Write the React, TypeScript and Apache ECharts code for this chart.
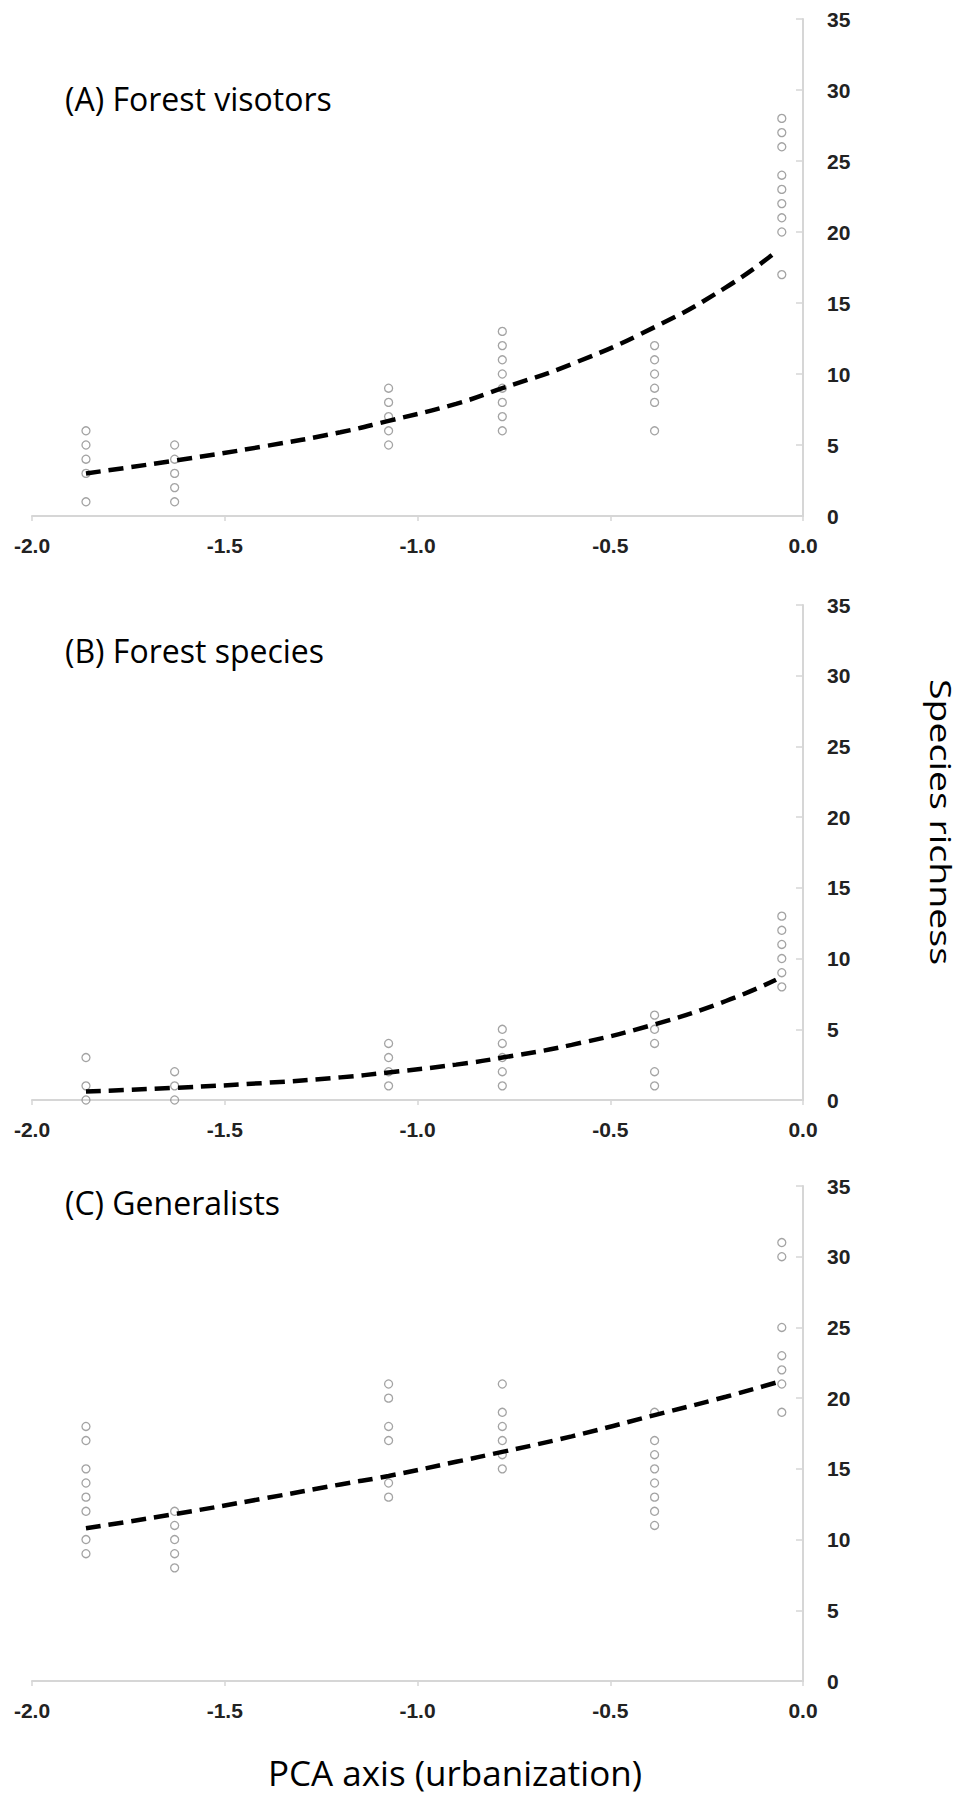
import React, { useEffect, useRef } from "react";
import * as echarts from "echarts";

// x position (PCA urbanization score) of each sampled site
const siteX = [-1.86, -1.63, -1.075, -0.78, -0.385, -0.055];

// species richness observed at each site (one inner list per site)
const visitorsRichness = [
  [6, 5, 4, 3, 1],
  [5, 4, 3, 2, 1],
  [9, 8, 7, 6, 5],
  [13, 12, 11, 10, 9, 8, 7, 6],
  [12, 11, 10, 9, 8, 6],
  [28, 27, 26, 24, 23, 22, 21, 20, 17],
];
const forestRichness = [
  [3, 1, 0],
  [2, 1, 0],
  [4, 3, 2, 1],
  [5, 4, 3, 2, 1],
  [6, 5, 4, 2, 1],
  [13, 12, 11, 10, 9, 8],
];
const generalistRichness = [
  [18, 17, 15, 14, 13, 12, 10, 9],
  [12, 11, 10, 9, 8],
  [21, 20, 18, 17, 14, 13],
  [21, 19, 18, 17, 16, 15],
  [19, 17, 16, 15, 14, 13, 12, 11],
  [31, 30, 25, 23, 22, 21, 19],
];

// fitted (dashed) curves
const fitX = [-1.86, -1.63, -1.4, -1.2, -1.075, -0.9, -0.78, -0.6, -0.385, -0.2, -0.07];
const visitorsFit = [3.0, 3.9, 4.9, 5.9, 6.7, 7.9, 9.0, 10.7, 13.3, 16.1, 18.6];
const forestFit = [0.6, 0.86, 1.2, 1.6, 1.95, 2.5, 3.0, 3.9, 5.35, 7.0, 8.5];
const generalistFit = [10.8, 11.8, 12.9, 13.9, 14.5, 15.5, 16.2, 17.3, 18.8, 20.1, 21.1];

const panelTitles = ["(A) Forest visotors", "(B) Forest species", "(C) Generalists"];
const xAxisTitle = "PCA axis (urbanization)";
const yAxisTitle = "Species richness";

const xMin = -2;
const xMax = 0;
const xStep = 0.5;
const yMin = 0;
const yMax = 35;
const yStep = 5;

const panels = [
  { title: panelTitles[0], points: visitorsRichness, fit: visitorsFit },
  { title: panelTitles[1], points: forestRichness, fit: forestFit },
  { title: panelTitles[2], points: generalistRichness, fit: generalistFit },
];

// layout (pixels)
const gridLeft = 32;
const gridWidth = 771;
const gridTops = [19, 605, 1186];
const gridHeights = [497, 495, 495];
const titleY = [98, 650, 1202];

const TEXT_FONT = "'Open Sans', 'DejaVu Sans', sans-serif";
const NUM_FONT = "'Liberation Sans', Arial, sans-serif";
const AXIS_GRAY = "#d6d6d6";

export default function App() {
  const ref = useRef<HTMLDivElement>(null);

  useEffect(() => {
    if (!ref.current) return;
    const chart = echarts.init(ref.current, undefined, { renderer: "svg" });

    const grid = panels.map((_, i) => ({
      left: gridLeft,
      top: gridTops[i],
      width: gridWidth,
      height: gridHeights[i],
      containLabel: false,
    }));

    const xAxis = panels.map((_, i) => ({
      type: "value",
      gridIndex: i,
      min: xMin,
      max: xMax,
      interval: xStep,
      position: "bottom",
      splitLine: { show: false },
      axisLine: { show: true, onZero: false, lineStyle: { color: AXIS_GRAY, width: 2 } },
      axisTick: { show: true, inside: false, length: 5, lineStyle: { color: AXIS_GRAY, width: 1.5 } },
      axisLabel: {
        show: true,
        margin: 19,
        color: "#222",
        fontFamily: NUM_FONT,
        fontWeight: "bold",
        fontSize: 21,
        formatter: (v: number) => v.toFixed(1),
        showMinLabel: true,
        showMaxLabel: true,
      },
    }));

    const yAxis = panels.map((_, i) => ({
      type: "value",
      gridIndex: i,
      min: yMin,
      max: yMax,
      interval: yStep,
      position: "right",
      splitLine: { show: false },
      axisLine: { show: true, onZero: false, lineStyle: { color: AXIS_GRAY, width: 2 } },
      axisTick: { show: true, inside: true, length: 7, lineStyle: { color: AXIS_GRAY, width: 1.5 } },
      axisLabel: {
        show: true,
        margin: 24,
        color: "#222",
        fontFamily: NUM_FONT,
        fontWeight: "bold",
        fontSize: 21,
        showMinLabel: true,
        showMaxLabel: true,
      },
    }));

    const series: any[] = [];
    panels.forEach((p, i) => {
      const pts: number[][] = [];
      p.points.forEach((vals, s) => vals.forEach((v) => pts.push([siteX[s], v])));
      series.push({
        type: "scatter",
        xAxisIndex: i,
        yAxisIndex: i,
        data: pts,
        symbol: "circle",
        symbolSize: 8,
        itemStyle: { color: "rgba(255,255,255,0)", borderColor: "#8c8c8c", borderWidth: 1.3 },
        z: 2,
        silent: true,
      });
      series.push({
        type: "line",
        xAxisIndex: i,
        yAxisIndex: i,
        data: fitX.map((x, k) => [x, p.fit[k]]),
        smooth: true,
        showSymbol: false,
        symbol: "none",
        lineStyle: { color: "#000", width: 4.5, type: [15, 8], cap: "butt" },
        z: 3,
        silent: true,
      });
    });

    const graphic: any[] = panels.map((p, i) => ({
      type: "text",
      x: 65,
      y: titleY[i],
      style: {
        text: p.title,
        fill: "#000",
        font: `32px ${TEXT_FONT}`,
        textAlign: "left",
        textVerticalAlign: "middle",
      },
    }));
    graphic.push({
      type: "text",
      x: 455,
      y: 1772,
      style: {
        text: xAxisTitle,
        fill: "#000",
        font: `35px ${TEXT_FONT}`,
        textAlign: "center",
        textVerticalAlign: "middle",
      },
    });
    graphic.push({
      type: "text",
      x: 941,
      y: 822,
      rotation: -Math.PI / 2,
      scaleX: 1.25,
      style: {
        text: yAxisTitle,
        fill: "#000",
        font: `30px ${TEXT_FONT}`,
        textAlign: "center",
        textVerticalAlign: "middle",
      },
    });

    chart.setOption({
      animation: false,
      backgroundColor: "#ffffff",
      grid,
      xAxis,
      yAxis,
      series,
      graphic,
    });

    return () => chart.dispose();
  }, []);

  return (
    <div
      ref={ref}
      style={{ position: "absolute", left: 0, top: 0, width: 963, height: 1798, background: "#fff" }}
    />
  );
}
